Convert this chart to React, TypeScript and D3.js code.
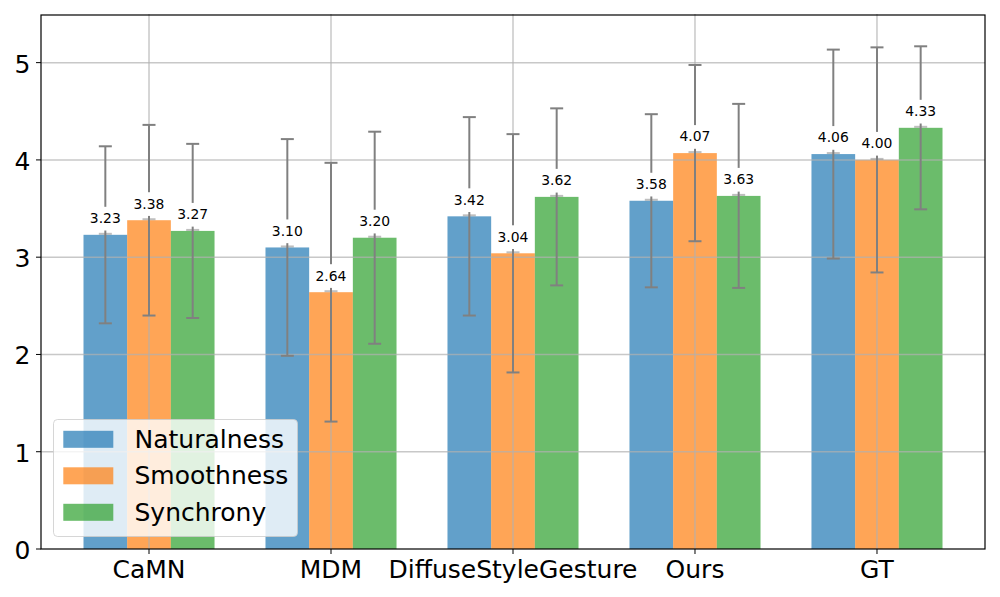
import React from "react";
import * as d3 from "d3";

const categories = ["CaMN", "MDM", "DiffuseStyleGesture", "Ours", "GT"];
const seriesNames = ["Naturalness", "Smoothness", "Synchrony"];
const naturalness = [3.23, 3.1, 3.42, 3.58, 4.06];
const smoothness = [3.38, 2.64, 3.04, 4.07, 4.0];
const synchrony = [3.27, 3.2, 3.62, 3.63, 4.33];
const naturalnessStd = [0.91, 1.114, 1.02, 0.89, 1.074];
const smoothnessStd = [0.98, 1.33, 1.225, 0.906, 1.157];
const synchronyStd = [0.895, 1.09, 0.91, 0.946, 0.838];
const yTicks = [0, 1, 2, 3, 4, 5];

const seriesValues = [naturalness, smoothness, synchrony];
const seriesStd = [naturalnessStd, smoothnessStd, synchronyStd];
const colors = ["#1f77b4", "#ff7f0e", "#2ca02c"];

const W = 1000;
const H = 597;
const left = 41;
const right = 985;
const top = 14;
const bottom = 549;
const barW = 0.24;
const font = "DejaVu Sans, Liberation Sans, sans-serif";

export default function App() {
  const x = d3.scaleLinear().domain([-0.5935, 4.5935]).range([left, right]);
  const y = d3.scaleLinear().domain([0, 5.5]).range([bottom, top]);
  const bw = x(barW) - x(0);
  const capHalf = 6.5;

  const bars: any[] = [];
  const grid: any[] = [];
  const errs: any[] = [];
  const labels: any[] = [];

  seriesValues.forEach((vals, s) => {
    vals.forEach((v, i) => {
      const cx = x(i + (s - 1) * barW);
      bars.push(
        <rect
          key={`b${s}-${i}`}
          x={cx - bw / 2}
          y={y(v)}
          width={bw}
          height={y(0) - y(v)}
          fill={colors[s]}
          fillOpacity={0.7}
        />
      );
      const sd = seriesStd[s][i];
      const y1 = y(v + sd);
      const y2 = y(v - sd);
      errs.push(
        <g key={`e${s}-${i}`} stroke="#808080" strokeWidth={2}>
          <line x1={cx} x2={cx} y1={y1} y2={y2} />
          <line x1={cx - capHalf} x2={cx + capHalf} y1={y1} y2={y1} />
          <line x1={cx - capHalf} x2={cx + capHalf} y1={y2} y2={y2} />
          <line x1={cx - capHalf} x2={cx + capHalf} y1={y(v) - 1} y2={y(v) - 1} strokeOpacity={0.5} />
        </g>
      );
      const yb = y(v);
      labels.push(
        <g key={`l${s}-${i}`}>
          <rect x={cx - 20} y={yb - 28} width={40} height={23.7} fill="#ffffff" />
          <text
            x={cx}
            y={yb - 11.7}
            textAnchor="middle"
            fontSize={13.9}
            fontFamily={font}
            fill="#000"
          >
            {v.toFixed(2)}
          </text>
        </g>
      );
    });
  });

  yTicks.forEach((t) => {
    if (t > 0)
      grid.push(
        <line key={`gy${t}`} x1={left} x2={right} y1={y(t)} y2={y(t)} stroke="#b0b0b0" strokeOpacity={0.7} strokeWidth={1.5} />
      );
  });
  categories.forEach((c, i) => {
    grid.push(
      <line key={`gx${i}`} x1={x(i)} x2={x(i)} y1={top} y2={bottom} stroke="#b0b0b0" strokeOpacity={0.7} strokeWidth={1.5} />
    );
  });

  const legX = 53.5;
  const legY = 419.5;
  const rowGap = 36.5;

  return (
    <svg
      width={W}
      height={H}
      viewBox={`0 0 ${W} ${H}`}
      style={{ position: "absolute", left: 0, top: 0, background: "#fff" }}
    >
      <rect x={0} y={0} width={W} height={H} fill="#fff" />
      {bars}
      {grid}
      {errs}
      {labels}
      {/* axes spines */}
      <rect x={left} y={top + 1} width={right - left} height={bottom - top - 1} fill="none" stroke="#000" strokeWidth={1.2} />
      {/* y ticks */}
      {yTicks.map((t) => (
        <g key={`yt${t}`}>
          <line x1={left - 5} x2={left} y1={y(t)} y2={y(t)} stroke="#000" strokeWidth={1} />
          <text x={30.5} y={y(t) + 10} textAnchor="end" fontSize={25} fontFamily={font} fill="#000">
            {t}
          </text>
        </g>
      ))}
      {/* x ticks */}
      {categories.map((c, i) => (
        <g key={`xt${i}`}>
          <line x1={x(i)} x2={x(i)} y1={bottom} y2={bottom + 5} stroke="#000" strokeWidth={1} />
          <text x={x(i)} y={577.5} textAnchor="middle" fontSize={25} fontFamily={font} fill="#000">
            {c}
          </text>
        </g>
      ))}
      {/* legend */}
      <rect x={legX} y={legY} width={244} height={117} rx={4} fill="#fff" fillOpacity={0.8} stroke="#cccccc" strokeOpacity={0.8} strokeWidth={1} />
      {seriesNames.map((n, s) => {
        const cy = 439.3 + s * rowGap;
        return (
          <g key={`lg${s}`}>
            <rect x={63.3} y={cy - 8.5} width={50} height={17} fill={colors[s]} fillOpacity={0.7} />
            <text x={134.5} y={cy + 8.6} fontSize={25} fontFamily={font} fill="#000">
              {n}
            </text>
          </g>
        );
      })}
    </svg>
  );
}
